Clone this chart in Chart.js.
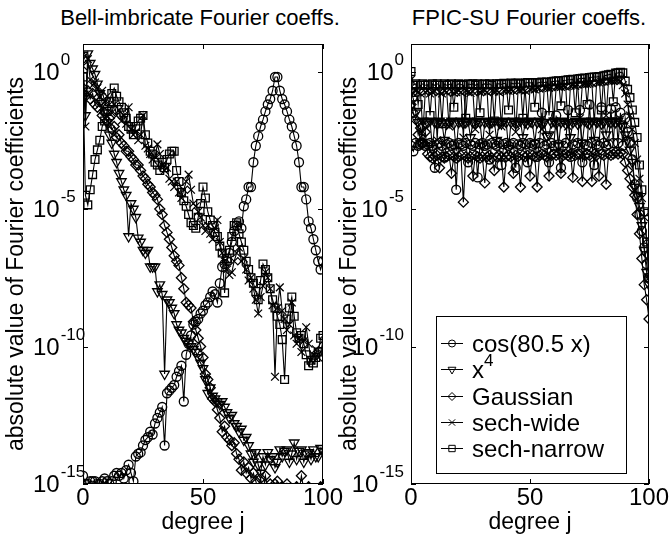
<!doctype html>
<html>
  <head>
    <meta charset="utf-8" />
    <title>Bell-imbricate and FPIC-SU Fourier coefficients</title>
    <script src="https://cdn.jsdelivr.net/npm/chart.js"></script>
    <style>
      html, body { margin: 0; padding: 0; background: #fff; }
      #wrap { position: relative; width: 670px; height: 537px; overflow: hidden; background: #fff; }
      canvas { position: absolute; top: 0; }
      #bell { left: 0; }
      #fpic { left: 330px; }
      .ttl {
        position: absolute; top: 6px; width: 340px; text-align: center;
        font-family: "Liberation Sans", Arial, Helvetica, sans-serif;
        font-size: 22px; line-height: 24px; color: #000; white-space: nowrap;
      }
    </style>
  </head>

  <body>
    <div id="wrap">
      <div class="ttl" style="left: 30px">Bell-imbricate Fourier coeffs.</div>
      <div class="ttl" style="left: 359px">FPIC-SU Fourier coeffs.</div>
      <canvas id="bell" width="345" height="537"></canvas>
      <canvas id="fpic" width="340" height="537"></canvas>
    </div>

    <script>
      // degree j on the x axis
      var degrees = [
        0, 1, 2, 3, 4, 5, 6, 7, 8, 9, 10, 11, 12, 13, 14, 15, 16, 17, 18, 19,
        20, 21, 22, 23, 24, 25, 26, 27, 28, 29, 30, 31, 32, 33, 34, 35, 36, 37, 38, 39,
        40, 41, 42, 43, 44, 45, 46, 47, 48, 49, 50, 51, 52, 53, 54, 55, 56, 57, 58, 59,
        60, 61, 62, 63, 64, 65, 66, 67, 68, 69, 70, 71, 72, 73, 74, 75, 76, 77, 78, 79,
        80, 81, 82, 83, 84, 85, 86, 87, 88, 89, 90, 91, 92, 93, 94, 95, 96, 97, 98, 99, 100
      ];
      var xTickValues = [0, 50, 100];
      var yTickExponents = [0, -5, -10, -15];
      var seriesNames = ["cos(80.5 x)", "x^4", "Gaussian", "sech-wide", "sech-narrow"];

      // values are log10 |coefficient|

      // ---- Bell-imbricate panel ----
      var bellCos = [
        -14.7, -15.0, -15.0, -14.9, -14.9, -14.9, -15.0, -15.0, -14.9, -14.8,
        -14.9, -15.0, -14.9, -14.7, -14.6, -14.7, -14.6, -14.8, -14.5, -14.3,
        -14.6, -14.9, -14.0, -13.9, -13.85, -13.6, -13.4, -13.3, -13.1, -13.2,
        -12.8, -12.6, -12.4, -12.2, -13.6, -11.7, -11.6, -11.5, -11.4, -11.1,
        -10.9, -10.7, -12.0, -10.3, -9.9, -9.6, -9.2, -9.1, -9.0, -8.8,
        -8.7, -8.5, -8.4, -8.2, -8.0, -8.1, -8.4, -7.7, -7.1, -7.0,
        -6.9, -6.6, -6.2, -5.8, -5.6, -5.45, -5.7, -4.9, -4.65, -4.2,
        -4.2, -3.3, -2.7, -2.35, -2.0, -1.75, -1.45, -1.2, -1.0, -0.7,
        -0.2, -0.2, -0.7, -1.0, -1.2, -1.45, -1.75, -2.0, -2.35, -2.7,
        -3.3, -4.2, -4.2, -4.65, -5.45, -5.7, -6.1, -6.5, -6.9, -7.2,
        -6.9
      ];
      var bellX4 = [
        0.6, -1.6, 0.65, 0.3, 0.1, -0.1, -0.45, -0.8, -1.15, -1.5,
        -1.85, -2.3, -2.6, -3.0, -3.3, -3.7, -4.0, -4.3, -4.5, -6.0,
        -4.8, -5.0, -5.3, -6.05, -6.2, -6.5, -6.6, -6.5, -7.1, -7.1,
        -7.1, -8.0, -7.75, -8.1, -11.0, -8.3, -8.4, -8.6, -8.8, -9.2,
        -9.4, -9.5, -9.7, -9.8, -9.9, -10.0, -10.1, -10.2, -10.4, -10.6,
        -10.8, -11.2, -11.7, -11.5, -11.8, -11.9, -12.0, -12.1, -12.0, -12.2,
        -12.4, -12.6, -12.5, -12.8, -12.9, -13.1, -13.0, -13.4, -13.3, -13.6,
        -13.9, -14.2, -13.85, -14.3, -14.6, -14.0, -14.3, -13.85, -14.1, -14.0,
        -14.4, -14.2, -13.75, -14.0, -13.8, -13.75, -14.2, -13.9, -13.5, -14.1,
        -13.8, -13.75, -14.2, -13.9, -13.85, -14.1, -13.75, -14.0, -14.0, -13.7,
        -13.8
      ];
      var bellGauss = [
        -0.6, -0.9, -0.7, -1.0, -0.8, -1.2, -1.3, -1.1, -1.6, -1.5,
        -1.8, -1.7, -2.1, -2.0, -2.4, -2.3, -2.6, -2.7, -2.9, -2.9,
        -3.1, -3.2, -3.4, -3.4, -3.6, -3.8, -3.9, -4.1, -4.2, -4.4,
        -4.5, -4.65, -5.0, -5.2, -5.6, -5.85, -6.1, -6.4, -6.7, -6.9,
        -7.05, -7.5, -7.9, -8.4, -8.5, -8.6, -9.1, -9.4, -9.7, -10.0,
        -10.4, -11.0, -11.2, -11.5, -11.9, -12.0, -12.3, -12.6, -13.1, -12.9,
        -13.3, -13.4, -13.6, -13.5, -13.9, -14.1, -14.5, -14.2, -14.6, -14.4,
        -14.8, -14.6, -14.9, -15.2, -14.8, -15.3, -14.7, -15.2, -15.0, -15.4,
        -15.0, -14.9, -15.3, -15.1, -15.4, -15.0, -15.3, -15.2, -15.4, -15.1,
        -15.3, -14.7, -15.2, -15.4, -15.1, -15.3, -15.2, -15.4, -15.3, -15.1,
        -15.2
      ];
      var bellSechWide = [
        0.2, -2.0, 0.45, -0.3, -0.5, -0.4, -0.6, -0.9, -0.7, -1.1,
        -0.9, -1.2, -1.5, -1.2, -1.6, -1.4, -1.8, -1.6, -1.9, -1.3,
        -2.1, -2.3, -2.2, -2.5, -2.3, -1.6, -2.7, -2.8, -3.0, -3.2,
        -3.1, -2.65, -3.0, -3.4, -3.6, -3.5, -3.9, -4.0, -4.2, -4.0,
        -4.4, -4.6, -4.3, -4.0, -3.75, -4.3, -4.8, -4.9, -5.1, -5.3,
        -5.6, -5.8, -5.6, -5.9, -6.1, -5.7, -5.4, -6.2, -6.6, -6.9,
        -7.2, -7.4, -7.3, -6.9, -6.6, -6.4, -6.9, -6.8, -7.2, -7.6,
        -7.5, -7.9, -8.3, -8.8, -8.2, -7.8, -7.3, -7.5, -7.9, -8.5,
        -11.1, -8.6, -7.85, -8.7, -9.0, -9.4, -9.2, -8.4, -9.6, -9.9,
        -9.7, -10.2, -9.8, -9.3, -9.9, -10.5, -10.3, -10.1, -10.4, -10.2,
        -9.8
      ];
      var bellSechNarrow = [
        -0.2, -4.5, -4.85, -4.3, -3.75, -3.2, -2.85, -2.5, -2.0, -1.8,
        -1.45, -1.1, -0.8, -0.6, -0.9, -1.1, -1.3, -1.5, -1.7, -2.0,
        -2.1, -2.3, -2.0, -1.8, -1.7, -1.6, -2.3, -2.6, -2.9, -3.0,
        -3.3, -3.4, -3.6, -3.3, -3.5, -3.2, -3.0, -2.9, -2.9, -3.6,
        -4.0, -4.4, -4.7, -4.9, -5.2, -5.5, -5.6, -5.7, -5.3, -4.8,
        -4.2, -4.6, -5.1, -5.4, -5.6, -5.85, -6.0, -6.35, -6.6, -8.05,
        -6.8, -6.5, -6.0, -5.6, -5.5, -5.9, -6.2, -6.5, -6.9, -7.2,
        -7.5, -7.7, -8.0, -8.3, -7.6, -7.0, -7.2, -7.5, -7.9, -8.3,
        -8.6, -8.9, -9.2, -9.75, -11.2, -9.0, -8.6, -8.2, -8.9, -9.5,
        -9.7, -9.6, -9.9, -10.3, -10.7, -10.5, -10.6, -10.4, -10.2, -9.7,
        -9.6
      ];

      // ---- FPIC-SU panel ----
      var fpicCos = [
        -2.7,
        -2.9, -2.6, -2.7, -2.65, -2.6, -2.7, -2.65, -2.6, -2.7, -3.5,
        -2.65, -2.6, -2.7, -3.1, -2.65, -2.6, -2.7, -2.65, -4.3, -2.6,
        -2.65, -2.7, -2.6, -3.3, -2.65, -2.7, -2.6, -3.85, -2.65, -2.6,
        -2.7, -2.65, -3.2, -2.6, -2.65, -2.7, -2.6, -3.4, -2.65, -2.6,
        -2.7, -2.65, -2.6, -3.5, -2.65, -2.7, -2.6, -2.65, -3.3, -2.6,
        -2.7, -2.65, -3.1, -2.6, -1.5, -2.7, -2.65, -3.3, -2.6, -2.7,
        -1.6, -2.65, -3.5, -2.7, -2.6, -1.4, -3.1, -2.65, -2.7, -2.6,
        -1.4, -3.3, -2.65, -2.7, -1.2, -2.6, -3.4, -2.65, -2.7, -1.3,
        -2.6, -2.7, -2.65, -1.35, -2.6, -1.3, -2.6, -1.5, -2.7, -1.7,
        -2.2, -2.6, -3.2, -4.1, -4.6, -5.2, -5.8, -6.4, -7.0, -7.5
      ];
      var fpicX4 = [
        -0.7,
        -1.0, -1.5, -1.85, -2.6, -1.8, -1.9, -1.85, -1.8, -2.8, -1.85,
        -1.9, -1.8, -1.85, -2.5, -1.9, -1.85, -1.8, -1.9, -2.9, -1.85,
        -1.8, -1.9, -1.85, -1.8, -2.4, -1.85, -1.9, -1.8, -1.85, -2.7,
        -1.85, -1.8, -1.9, -1.85, -1.8, -2.5, -1.85, -1.9, -1.8, -1.85,
        -2.8, -1.85, -1.8, -1.9, -1.85, -1.8, -2.4, -1.85, -1.9, -1.8,
        -1.85, -2.6, -1.85, -1.8, -1.9, -1.85, -2.35, -2.3, -1.85, -1.8,
        -1.9, -2.7, -1.85, -1.8, -1.9, -1.85, -2.4, -1.85, -1.8, -1.9,
        -1.85, -2.6, -1.8, -1.85, -1.9, -1.8, -2.5, -1.85, -1.8, -1.9,
        -1.85, -2.3, -1.8, -1.85, -1.8, -1.85, -1.8, -1.9, -2.0, -2.3,
        -2.5, -2.85, -3.3, -4.2, -4.5, -4.9, -5.6, -6.5, -7.3, -7.75
      ];
      var fpicGauss = [
        -1.2,
        -1.5, -1.75, -2.3, -2.05, -2.6, -2.2, -3.0, -3.1, -3.15, -3.1,
        -3.05, -3.5, -3.1, -3.15, -3.1, -3.05, -3.7, -3.1, -3.15, -3.1,
        -3.05, -4.75, -3.1, -3.15, -3.1, -3.8, -3.05, -3.1, -3.15, -3.1,
        -4.05, -3.1, -3.05, -3.15, -3.6, -3.1, -3.05, -3.1, -4.2, -3.1,
        -3.05, -3.1, -3.7, -3.05, -3.1, -4.2, -3.05, -3.1, -3.05, -3.8,
        -3.05, -3.1, -4.2, -3.05, -3.0, -3.05, -3.1, -3.8, -3.05, -3.0,
        -3.05, -3.0, -3.7, -3.05, -3.0, -3.05, -3.0, -3.85, -3.05, -3.0,
        -3.0, -4.0, -3.05, -3.0, -3.05, -4.0, -3.0, -3.05, -3.8, -3.0,
        -3.05, -4.1, -3.0, -3.05, -3.0, -2.95, -3.0, -2.95, -3.0, -3.3,
        -3.6, -3.9, -4.2, -4.5, -5.2, -5.9, -6.8, -7.75, -8.3, -9.0
      ];
      var fpicSechWide = [
        -0.3,
        -0.8, -0.7, -0.75, -0.8, -2.2, -0.75, -0.7, -0.8, -0.75, -0.72,
        -2.5, -0.75, -0.8, -0.7, -0.75, -2.0, -0.72, -0.78, -0.75, -0.7,
        -0.75, -2.4, -0.7, -0.75, -0.78, -0.72, -2.1, -0.7, -0.75, -0.72,
        -0.7, -0.75, -2.3, -0.7, -0.72, -0.7, -0.75, -2.0, -0.7, -0.68,
        -0.7, -0.66, -0.7, -2.2, -0.66, -0.68, -0.65, -0.7, -1.9, -0.65,
        -0.62, -0.65, -0.6, -0.62, -2.1, -0.6, -0.58, -0.6, -0.57, -1.8,
        -0.56, -0.55, -0.56, -0.53, -0.55, -2.0, -0.52, -0.5, -0.52, -0.48,
        -1.7, -0.47, -0.46, -0.45, -0.44, -0.42, -1.9, -0.4, -0.4, -0.38,
        -0.37, -1.6, -0.35, -0.34, -0.33, -0.32, -0.32, -0.35, -0.5, -0.8,
        -1.2, -1.6, -2.1, -2.6, -3.2, -3.9, -4.6, -5.3, -6.1, -7.5
      ];
      var fpicSechNarrow = [
        0.0,
        -0.5, -0.45, -1.2, -0.5, -0.45, -0.5, -0.48, -1.6, -0.45, -0.5,
        -0.45, -0.5, -1.9, -0.45, -0.5, -0.47, -0.45, -1.3, -0.5, -0.45,
        -0.47, -0.5, -1.7, -0.45, -0.47, -0.45, -0.5, -0.45, -1.5, -0.47,
        -0.45, -0.47, -0.45, -0.5, -1.8, -0.45, -0.45, -0.47, -0.43, -0.45,
        -1.4, -0.42, -0.45, -0.43, -0.42, -0.45, -1.7, -0.42, -0.4, -0.42,
        -0.4, -1.3, -0.42, -0.4, -0.38, -0.4, -0.38, -1.6, -0.37, -0.36,
        -0.35, -0.34, -1.25, -0.33, -0.32, -0.3, -0.3, -0.28, -1.5, -0.27,
        -0.26, -0.25, -0.24, -1.2, -0.22, -0.21, -0.2, -0.2, -0.18, -1.4,
        -0.16, -0.14, -0.12, -0.1, -1.1, -0.06, -0.05, -0.03, -0.05, -0.35,
        -0.65, -0.95, -1.4, -1.85, -2.4, -3.4, -4.3, -5.1, -6.2, -7.5
      ];

      var FONT = "'Liberation Sans', Arial, Helvetica, sans-serif";
      Chart.defaults.font.family = FONT;
      Chart.defaults.color = "#000";

      // marker look for each of the five functions
      var markers = [
        { style: "circle", radius: 4.5, rotation: 0 },
        { style: "triangle", radius: 5.5, rotation: 180 },
        { style: "rectRot", radius: 5, rotation: 0 },
        { style: "crossRot", radius: 5.5, rotation: 0 },
        { style: "rect", radius: 5.5, rotation: 0 },
      ];

      function makeDataset(i, logs) {
        return {
          label: seriesNames[i],
          data: logs.map(function (e, k) {
            return { x: degrees[k], y: Math.pow(10, e) };
          }),
          borderColor: "#000",
          borderWidth: 1.1,
          backgroundColor: "rgba(0,0,0,0)",
          pointStyle: markers[i].style,
          pointRadius: markers[i].radius,
          pointRotation: markers[i].rotation,
          pointBorderColor: "#000",
          pointBackgroundColor: "rgba(0,0,0,0)",
          pointBorderWidth: 1.3,
          tension: 0,
          fill: false,
        };
      }

      // box, inward ticks and "10^n" labels
      var framePlugin = {
        id: "frame",
        afterDatasetsDraw: function (chart, args, opts) {
          var ctx = chart.ctx;
          var a = chart.chartArea;
          var xs = chart.scales.x;
          var ys = chart.scales.y;
          ctx.save();
          ctx.strokeStyle = "#000";
          ctx.lineWidth = 1;
          ctx.strokeRect(a.left + 0.5, a.top + 0.5, a.right - a.left - 1, a.bottom - a.top - 1);
          ctx.beginPath();
          xTickValues.forEach(function (v) {
            var px = Math.round(xs.getPixelForValue(v)) + 0.5;
            ctx.moveTo(px, a.bottom);
            ctx.lineTo(px, a.bottom - 5);
            ctx.moveTo(px, a.top);
            ctx.lineTo(px, a.top + 5);
          });
          yTickExponents.forEach(function (e) {
            var py = Math.round(ys.getPixelForValue(Math.pow(10, e))) + 0.5;
            ctx.moveTo(a.left, py);
            ctx.lineTo(a.left + 5, py);
            ctx.moveTo(a.right, py);
            ctx.lineTo(a.right - 5, py);
          });
          ctx.stroke();

          ctx.fillStyle = "#000";
          ctx.textBaseline = "alphabetic";
          ctx.textAlign = "left";
          yTickExponents.forEach(function (e) {
            var py = ys.getPixelForValue(Math.pow(10, e));
            ctx.font = "24px " + FONT;
            var wBase = ctx.measureText("10").width;
            ctx.font = "17px " + FONT;
            var sup = String(e);
            var wSup = ctx.measureText(sup).width;
            var x0 = opts.align === "left" ? opts.labelX : opts.labelX - wBase - wSup - 1;
            ctx.font = "24px " + FONT;
            ctx.fillText("10", x0, py + 8);
            ctx.font = "17px " + FONT;
            ctx.fillText(sup, x0 + wBase + 1, py - 7);
          });
          ctx.restore();
        },
      };

      // boxed legend inside the plot
      var boxLegendPlugin = {
        id: "boxLegend",
        afterDraw: function (chart, args, opts) {
          if (!opts.show) return;
          var ctx = chart.ctx;
          var a = chart.chartArea;
          var x0 = a.left + opts.left;
          var y0 = a.top + opts.top;
          ctx.save();
          ctx.fillStyle = "#fff";
          ctx.fillRect(x0, y0, opts.width, opts.height);
          ctx.strokeStyle = "#000";
          ctx.lineWidth = 1;
          ctx.strokeRect(x0 + 0.5, y0 + 0.5, opts.width, opts.height);
          chart.data.datasets.forEach(function (ds, i) {
            var cy = Math.round(y0 + opts.firstRow + i * opts.rowGap) + 0.5;
            ctx.strokeStyle = "#000";
            ctx.lineWidth = 1;
            ctx.beginPath();
            ctx.moveTo(x0 + 5, cy);
            ctx.lineTo(x0 + 27, cy);
            ctx.stroke();
            ctx.fillStyle = "rgba(0,0,0,0)";
            Chart.helpers.drawPoint(
              ctx,
              { pointStyle: ds.pointStyle, radius: ds.pointRadius - 1, rotation: ds.pointRotation, borderWidth: 1 },
              x0 + 16,
              cy
            );
            ctx.fillStyle = "#000";
            ctx.textAlign = "left";
            ctx.textBaseline = "alphabetic";
            var parts = ds.label.split("^");
            ctx.font = "24px " + FONT;
            ctx.fillText(parts[0], x0 + 36, cy + 8.5);
            if (parts[1]) {
              var w = ctx.measureText(parts[0]).width;
              ctx.font = "17px " + FONT;
              ctx.fillText(parts[1], x0 + 36 + w, cy - 4);
            }
          });
          ctx.restore();
        },
      };

      function makeOptions(cfg) {
        return {
          responsive: false,
          animation: false,
          devicePixelRatio: 1,
          layout: { padding: { left: 0, right: cfg.padRight, top: 44, bottom: 0 } },
          plugins: {
            legend: { display: false },
            tooltip: { enabled: false },
            title: { display: false },
            frame: { align: cfg.labelAlign, labelX: cfg.labelX },
            boxLegend: cfg.legend,
          },
          scales: {
            x: {
              type: "linear",
              min: 0,
              max: 100,
              position: "bottom",
              afterFit: function (s) {
                s.height = 53;
                s.paddingLeft = 0;
                s.paddingRight = 0;
              },
              grid: { display: false, drawTicks: false },
              border: { display: false },
              ticks: { stepSize: 50, padding: 0, maxRotation: 0, color: "#000", font: { size: 24 } },
              title: {
                display: true,
                text: "degree j",
                color: "#000",
                font: { size: 23 },
                padding: { top: 0, bottom: 1 },
              },
            },
            y: {
              type: "logarithmic",
              min: 1e-15,
              max: 10,
              position: "left",
              afterFit: function (s) {
                s.width = cfg.yWidth;
              },
              grid: { display: false, drawTicks: false },
              border: { display: false },
              ticks: { display: false },
              title: {
                display: true,
                text: "absolute value of Fourier coefficients",
                color: "#000",
                font: { size: 23 },
                padding: { top: cfg.yTitlePad, bottom: 0 },
              },
            },
          },
        };
      }

      new Chart(document.getElementById("bell"), {
        type: "line",
        data: {
          datasets: [
            makeDataset(0, bellCos),
            makeDataset(1, bellX4),
            makeDataset(2, bellGauss),
            makeDataset(3, bellSechWide),
            makeDataset(4, bellSechNarrow),
          ],
        },
        options: makeOptions({
          padRight: 22,
          yWidth: 83,
          yTitlePad: 3,
          labelAlign: "left",
          labelX: 33,
          legend: { show: false },
        }),
        plugins: [framePlugin, boxLegendPlugin],
      });

      new Chart(document.getElementById("fpic"), {
        type: "line",
        data: {
          datasets: [
            makeDataset(0, fpicCos),
            makeDataset(1, fpicX4),
            makeDataset(2, fpicGauss),
            makeDataset(3, fpicSechWide),
            makeDataset(4, fpicSechNarrow),
          ],
        },
        options: makeOptions({
          padRight: 21,
          yWidth: 81,
          yTitlePad: 6,
          labelAlign: "right",
          labelX: 74,
          legend: { show: true, left: 25, top: 272, width: 190, height: 157, firstRow: 27, rowGap: 26.3 },
        }),
        plugins: [framePlugin, boxLegendPlugin],
      });
    </script>
  </body>
</html>
